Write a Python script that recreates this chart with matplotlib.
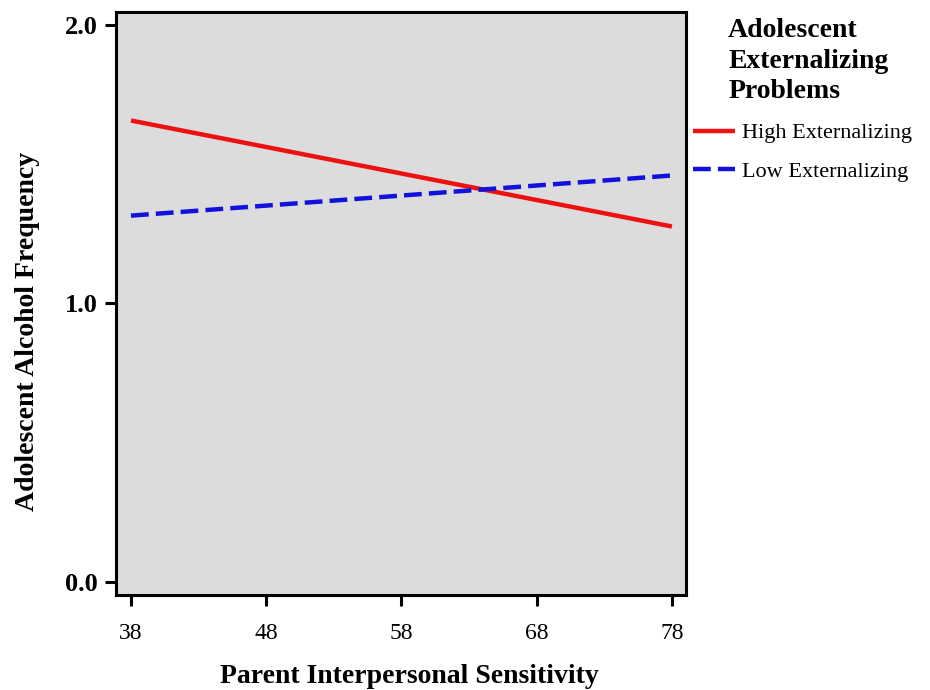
import matplotlib
matplotlib.use("Agg")
import matplotlib.pyplot as plt

# data
x_vals = [38, 78]
high_ext = [1.656, 1.276]
low_ext = [1.315, 1.459]
x_ticks = [38, 48, 58, 68, 78]
y_ticks = [0.0, 1.0, 2.0]

plt.rcParams['font.family'] = ['Liberation Serif', 'DejaVu Serif']

fig = plt.figure(figsize=(9.3, 6.9), dpi=100)
ax = fig.add_axes([0.1247, 0.1377, 0.6129, 0.8449])
ax.set_facecolor('#dcdcdc')

ax.plot(x_vals, high_ext, color='#ee1111', lw=3.2, label='High Externalizing',
        solid_capstyle='butt')
ax.plot(x_vals, low_ext, color='#1111dd', lw=3.2, dashes=(4, 1.6),
        label='Low Externalizing', dash_capstyle='butt')

ax.set_xlim(36.89, 79.04)
ax.set_ylim(-0.045, 2.045)
ax.set_xticks(x_ticks)
ax.set_xticklabels([str(v) for v in x_ticks], fontsize=17)
ax.set_yticks(y_ticks)
ax.set_yticklabels(['%.1f' % v for v in y_ticks], fontsize=19, fontweight='bold')
ax.tick_params(direction='out', length=8, width=2.2, pad=5)
ax.tick_params(axis='x', pad=12)
for s in ax.spines.values():
    s.set_linewidth(2.2)

fig.text(0.44, 0.002, 'Parent Interpersonal Sensitivity', ha='center', va='bottom',
         fontsize=20, fontweight='bold')
fig.text(0.03, 0.52, 'Adolescent Alcohol Frequency', ha='center', va='center',
         rotation=90, fontsize=20, fontweight='bold')

# legend title drawn apart so it can sit right of the handles
fig.text(0.783, 0.974, 'Adolescent\nExternalizing\nProblems', ha='left', va='top',
         fontsize=20, fontweight='bold', linespacing=1.3)

leg = ax.legend(loc='upper left', bbox_to_anchor=(0.745, 0.822),
                bbox_transform=fig.transFigure, frameon=False,
                fontsize=16, handlelength=1.9, handletextpad=0.3,
                borderaxespad=0, borderpad=0, labelspacing=0.8)

fig.savefig('out.png', dpi=100)
